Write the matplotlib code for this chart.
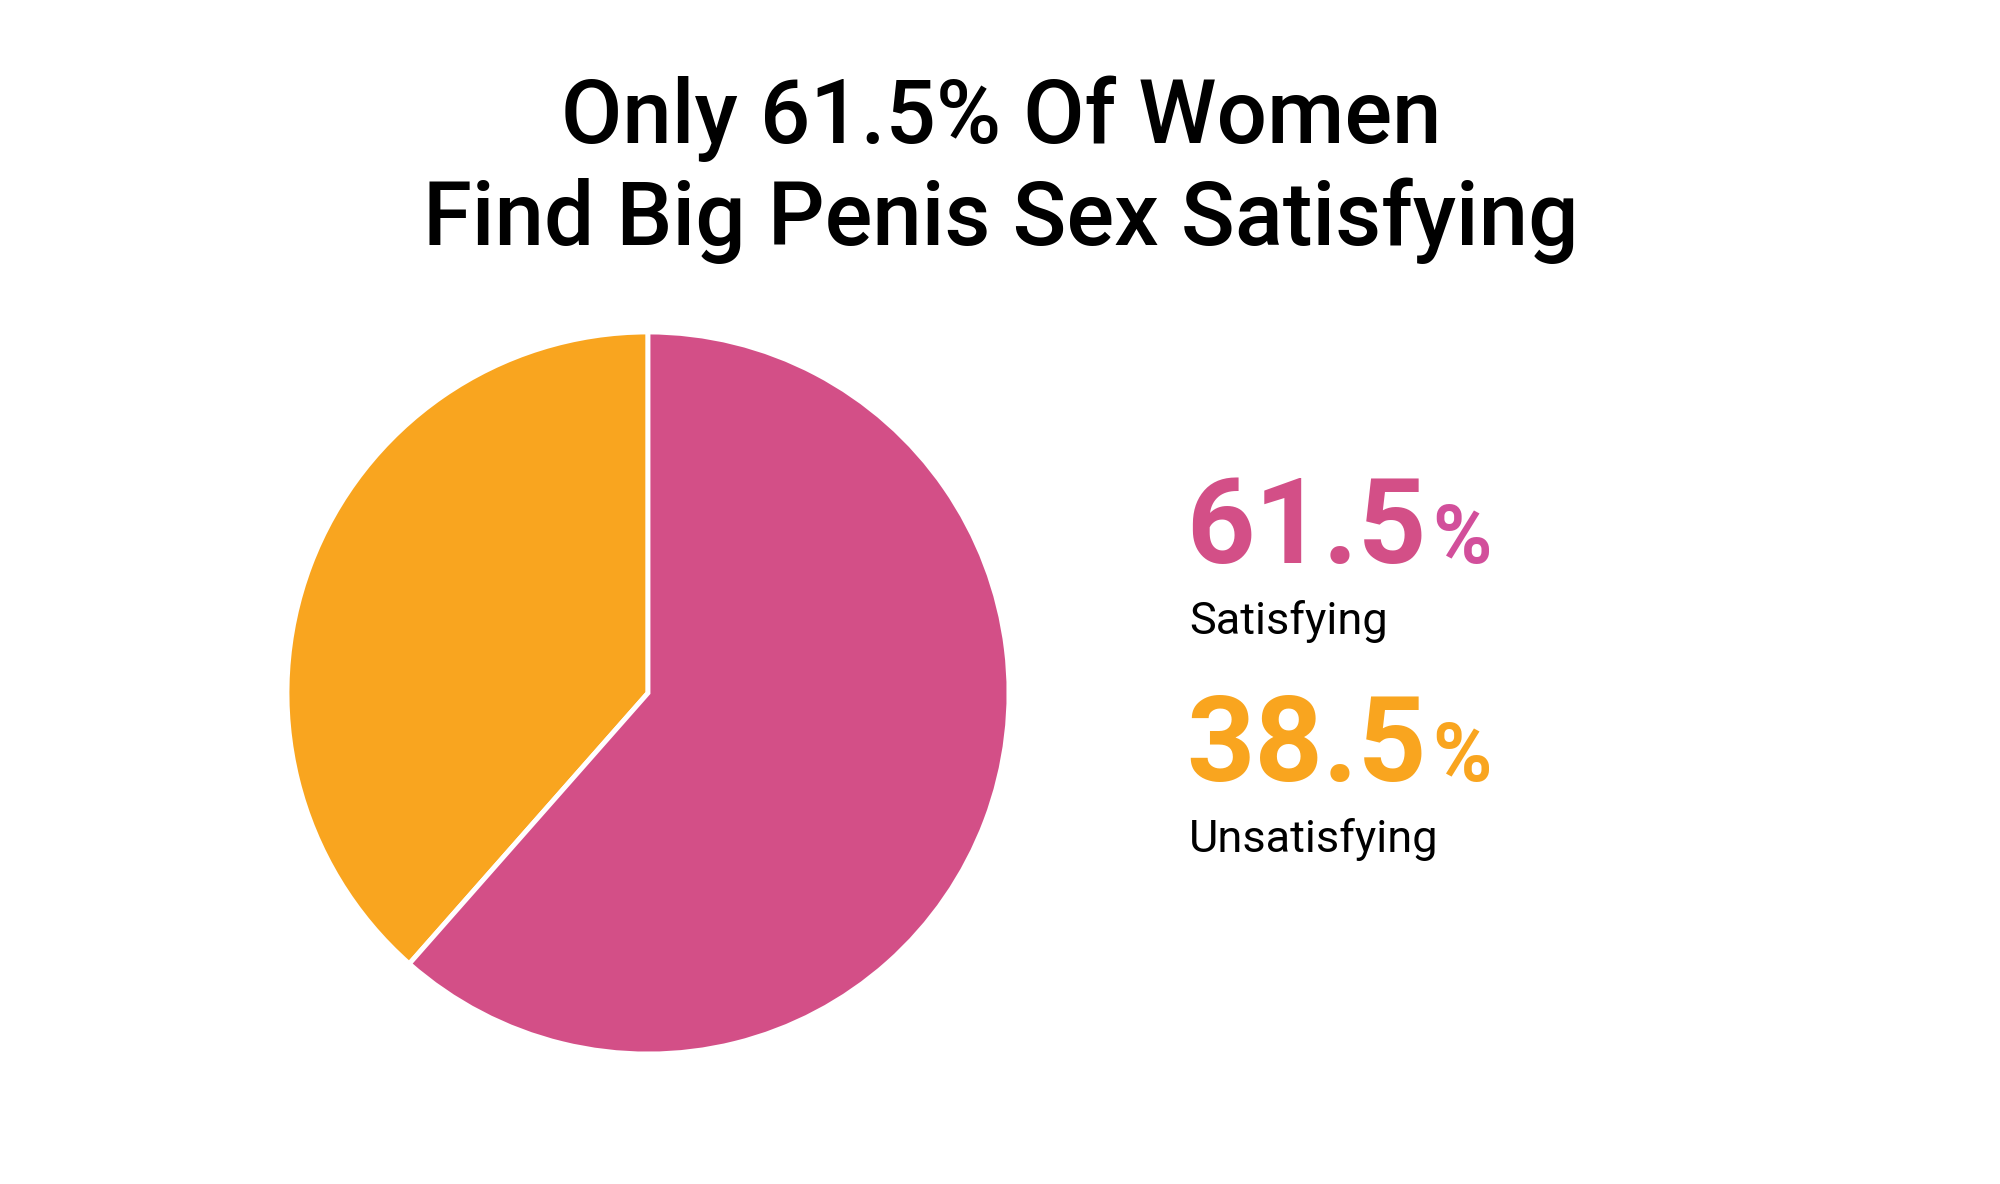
import matplotlib.pyplot as plt

labels = ["Satisfying", "Unsatisfying"]
values = [61.5, 38.5]
colors = ["#D34F87", "#F9A51F"]
pct_colors = ["#D24F9B", "#F9A51F"]
title_lines = ["Only 61.5% Of Women", "Find Big Penis Sex Satisfying"]

W, H = 2000, 1184
fig = plt.figure(figsize=(W / 100, H / 100), dpi=100)
fig.patch.set_facecolor("white")

# pie axes: centre (648, 693) px, radius 361 px
cx, cy, r = 648, 693, 361
ax = fig.add_axes([(cx - r) / W, (H - cy - r) / H, 2 * r / W, 2 * r / H])
# orange first, counter-clockwise from top; pink fills the rest
ax.pie(values[::-1], colors=colors[::-1], startangle=90, counterclock=True,
       wedgeprops=dict(edgecolor="white", linewidth=3.5))
ax.set_xlim(-1.0, 1.0)
ax.set_ylim(-1.0, 1.0)
ax.axis("off")

# title
fig.text(1001 / W, 1 - 143 / H, title_lines[0], ha="center", va="baseline",
         fontsize=64, family="Roboto", weight="medium", color="black")
fig.text(1001 / W, 1 - 245 / H, title_lines[1], ha="center", va="baseline",
         fontsize=64, family="Roboto", weight="medium", color="black")

# right-hand legend numbers
num_base = [563, 781]
lab_base = [634, 852]
for i in range(2):
    num = fig.text(1186 / W, 1 - num_base[i] / H, f"{values[i]:.1f}",
                   ha="left", va="baseline", fontsize=86, family="Roboto",
                   weight="bold", color=colors[i])
    fig.canvas.draw()
    bb = num.get_window_extent()
    fig.text((bb.x1 + 6) / W, 1 - num_base[i] / H, "%", ha="left",
             va="baseline", fontsize=58, family="Roboto", weight="bold",
             color=pct_colors[i])
    fig.text(1189 / W, 1 - lab_base[i] / H, labels[i], ha="left",
             va="baseline", fontsize=32.5, family="Roboto", color="black")

fig.savefig("out.png", dpi=100, facecolor="white")
